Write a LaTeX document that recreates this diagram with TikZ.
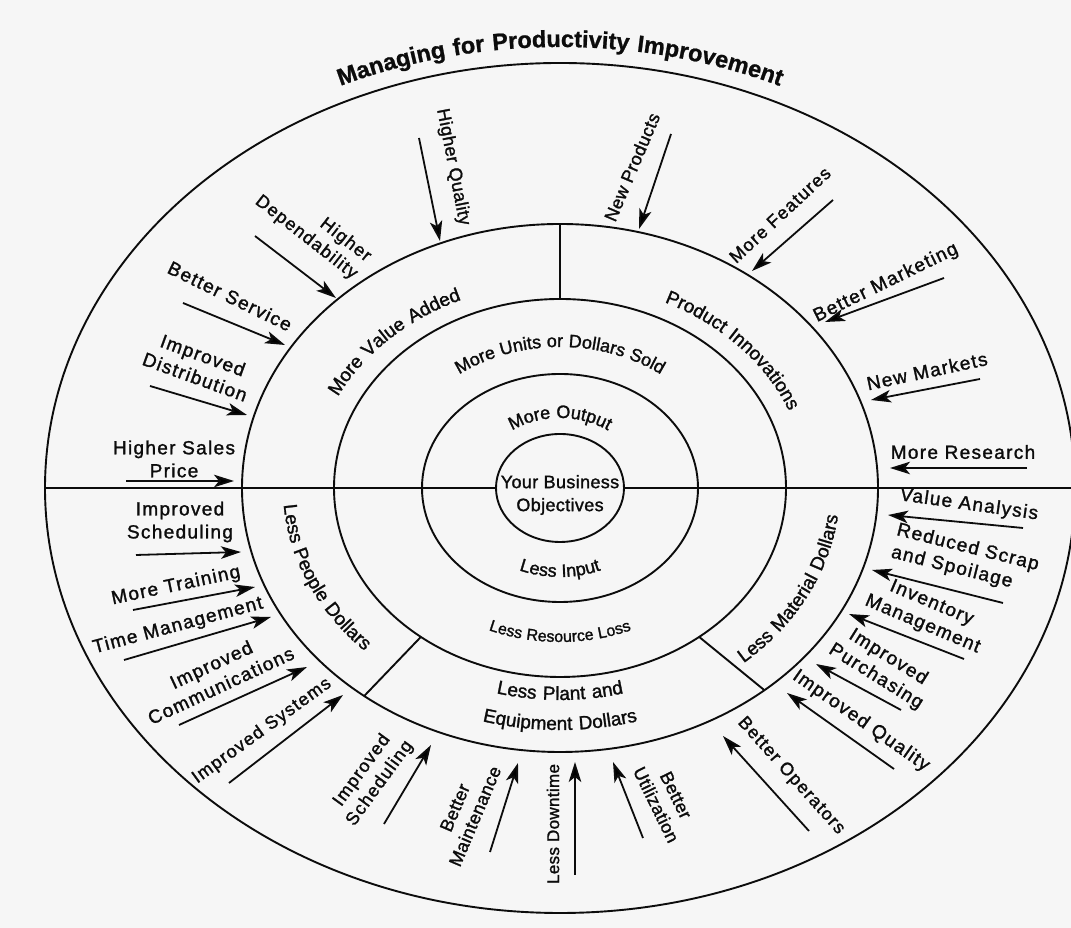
\documentclass[tikz,border=0pt]{standalone}
\usepackage{fontspec}
\setmainfont{Liberation Sans}
\newfontfamily\labfam[LetterSpace=7,FakeBold=1.4]{Liberation Sans}
\newfontfamily\innerfam[LetterSpace=2,FakeBold=1.4]{Liberation Sans}
\newfontfamily\titlefam[LetterSpace=6,FakeBold=1]{Liberation Sans}
\usetikzlibrary{decorations.text,arrows.meta}

\newcommand\lf{\labfam\fontsize{19}{23}\selectfont}
\newcommand\mf{\labfam\fontsize{18}{22}\selectfont}
\newcommand\vf{\innerfam\fontsize{18}{22}\selectfont}
\newcommand\cf{\innerfam\fontsize{18}{23}\selectfont}
\newcommand\rf{\innerfam\fontsize{16}{20}\selectfont}
\newcommand\tf{\titlefam\bfseries\fontsize{23.5}{28}\selectfont}

\definecolor{paper}{RGB}{246,246,246}
\definecolor{ink}{RGB}{12,12,12}

\tikzset{
  ring/.style={draw=ink,line width=1.9pt},
  divider/.style={draw=ink,line width=1.9pt},
  feed/.style={draw=ink,line width=1.8pt,
    -{Stealth[length=20pt,width=12.5pt,inset=5pt]}},
  lab/.style={font=\lf,text=ink,align=center,inner sep=0pt},
  labm/.style={lab,font=\mf},
  labv/.style={lab,font=\vf},
}

% text set along an elliptic arc around (C)
% #1 text, #2 x radius, #3 y radius, #4 start angle, #5 end angle
\newcommand\arclabel[5]{%
  \path[decorate,decoration={text along path,text align=center,
      text color=ink,text={#1}}]
    ([shift={(#4:#2 and #3)}]C)
    arc[start angle=#4,end angle=#5,x radius=#2,y radius=#3];}

% arrow between two named end points: #1 name, #2 tail, #3 tip
\newcommand\feedarrow[3]{%
  \coordinate (#1s) at (#2);
  \coordinate (#1t) at (#3);
  \draw[feed] (#1s) -- (#1t);}

\begin{document}
\begin{tikzpicture}[x=1pt,y=1pt]
\useasboundingbox (0,0) rectangle (1071,928);
\clip (0,0) rectangle (1071,928);
\fill[paper] (0,0) rectangle (1071,928);

\coordinate (C) at (560,440);

% concentric rings
\draw[ring] (C) ellipse[x radius=515pt,y radius=425pt];
\draw[ring] (C) ellipse[x radius=318pt,y radius=264pt];
\draw[ring] (C) ellipse[x radius=226pt,y radius=189pt];
\draw[ring] (C) ellipse[x radius=138pt,y radius=114pt];
\draw[ring] (C) ellipse[x radius=64pt,y radius=54pt];

% horizontal axis, stopping at the core
\coordinate (w1) at (45,440);
\coordinate (w5) at (496,440);
\coordinate (e5) at (624,440);
\coordinate (e1) at (1075,440);
\draw[divider] (w1) -- (w5);
\draw[divider] (e5) -- (e1);

% sector dividers in the second band
\coordinate (dt3) at (560,629);
\coordinate (dt2) at (560,704);
\coordinate (dl3) at (420.9,291.1);
\coordinate (dl2) at (364.2,232.0);
\coordinate (dr3) at (699.1,291.1);
\coordinate (dr2) at (764.4,237.8);
\draw[divider] (dt3) -- (dt2);
\draw[divider] (dl3) -- (dl2);
\draw[divider] (dr3) -- (dr2);

% title over the outer ring
\arclabel{|\tf|Managing for Productivity Improvement}{534pt}{441pt}{128}{52}

% second band
\arclabel{|\lf|More Value Added}{248pt}{205pt}{174}{96}
\arclabel{|\lf|Product Innovations}{247pt}{205pt}{82}{2}
\arclabel{|\lf|Less People Dollars}{277pt}{230pt}{172}{236}
\arclabel{|\lf|Less Material Dollars}{280pt}{232pt}{-62}{8}
\arclabel{|\lf|Less Plant and}{254pt}{212pt}{240}{300}
\arclabel{|\lf|Equipment Dollars}{290pt}{242pt}{236}{304}

% third band
\arclabel{|\cf|More Units or Dollars Sold}{170pt}{141pt}{160}{20}
\arclabel{|\rf|Less Resource Loss}{185pt}{154pt}{225}{315}

% fourth band
\arclabel{|\cf|More Output}{84pt}{70pt}{165}{15}
\arclabel{|\cf|Less Input}{107pt}{89pt}{220}{320}

% core
\node[lab,font=\cf] (core) at (560,433) {Your Business\\Objectives};

% contributing factors in the outer band
\node[labv,rotate=-79] (hq) at (453,761) {Higher Quality};
\node[labm,rotate=-38,align=right] (hd) at (313,699) {Higher\\Dependability};
\node[lab,rotate=-26] (bs) at (230,632) {Better Service};
\node[lab,rotate=-20] (idi) at (199,562) {Improved\\Distribution};
\node[lab] (hsp) at (174,469) {Higher Sales\\Price};
\node[lab] (isl) at (180,406) {Improved\\Scheduling};
\node[lab,rotate=12] (mt) at (176,342) {More Training};
\node[lab,rotate=15] (tm) at (178,302) {Time Management};
\node[lab,rotate=25] (ic) at (216,253) {Improved\\Communications};
\node[labm,rotate=36] (isy) at (262,197) {Improved Systems};
\node[labm,rotate=54] (isb) at (371,151) {Improved\\Scheduling};
\node[labv,rotate=67] (bm) at (465,116) {Better\\Maintenance};
\node[labv,font=\innerfam\fontsize{17}{21}\selectfont,rotate=90] (ld) at (553,104) {Less Downtime};
\node[labv,rotate=-64] (bu) at (666,128) {Better\\Utilization};
\node[labm,rotate=-48] (bo) at (791,152) {Better Operators};
\node[lab,rotate=-35] (iq) at (861,207) {Improved Quality};
\node[lab,rotate=-32] (ip) at (882,261) {Improved\\Purchasing};
\node[lab,rotate=-23] (im) at (927,314) {Inventory\\Management};
\node[lab,rotate=-14,align=left] (rs) at (965,369) {Reduced Scrap\\and Spoilage};
\node[lab,rotate=-8] (va) at (969,423) {Value Analysis};
\node[lab] (mr) at (963,476) {More Research};
\node[lab,rotate=12] (nm) at (927,557) {New Markets};
\node[lab,rotate=26] (bmk) at (886,645) {Better Marketing};
\node[labm,rotate=43] (mf) at (780,713) {More Features};
\node[labv,rotate=67] (np) at (632,761) {New Products};

% arrows pointing inward
\feedarrow{hq}{419,790}{440,687}
\feedarrow{hd}{255,692}{336,630}
\feedarrow{bs}{183,625}{285,583}
\feedarrow{idi}{150,542}{247,513}
\feedarrow{hsp}{126,447}{234,447}
\feedarrow{isl}{136,373}{241,376}
\feedarrow{mt}{133,318}{255,341}
\feedarrow{tm}{124,268}{271,311}
\feedarrow{ic}{179,203}{307,261}
\feedarrow{isy}{229,145}{343,233}
\feedarrow{isb}{384,104}{431,183}
\feedarrow{bm}{490,76}{518,165}
\feedarrow{ld}{575,53}{575,166}
\feedarrow{bu}{643,90}{613,166}
\feedarrow{bo}{809,97}{723,192}
\feedarrow{iq}{894,159}{787,235}
\feedarrow{ip}{901,218}{816,264}
\feedarrow{im}{964,269}{849,314}
\feedarrow{rs}{1003,325}{872,358}
\feedarrow{va}{1023,400}{888,413}
\feedarrow{mr}{1027,460}{890,460}
\feedarrow{nm}{980,549}{871,528}
\feedarrow{bmk}{944,650}{825,606}
\feedarrow{mf}{833,728}{752,657}
\feedarrow{np}{671,794}{639,699}
\end{tikzpicture}
\end{document}
